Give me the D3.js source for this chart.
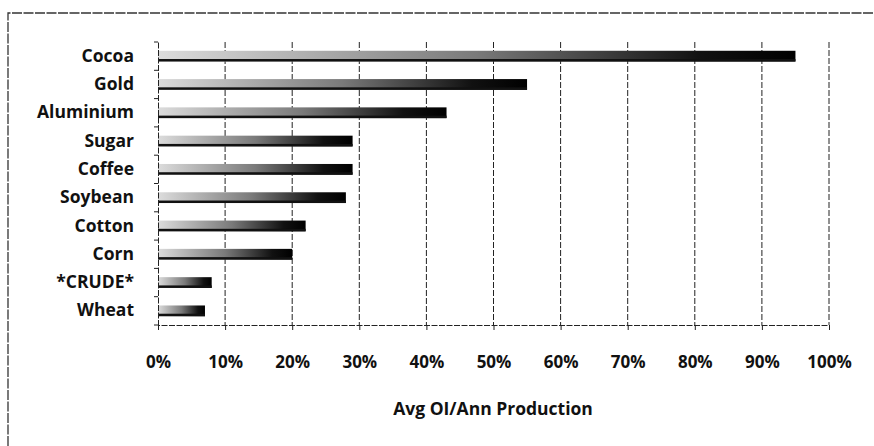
<!DOCTYPE html>
<html><head><meta charset="utf-8">
<script src="https://cdn.jsdelivr.net/npm/d3@7"></script>
<style>body{margin:0;background:#fff}svg{display:block}</style>
</head><body>
<svg id="c" width="874" height="446"></svg>
<script>
const categories = ["Cocoa","Gold","Aluminium","Sugar","Coffee","Soybean","Cotton","Corn","*CRUDE*","Wheat"];
const values = [95,55,43,29,29,28,22,20,8,7];
const xTicks = [0,10,20,30,40,50,60,70,80,90,100];
const axisTitle = "Avg OI/Ann Production";

const svg = d3.select("#c");
const font = "'Open Sans', sans-serif";
const L = 158, R = 829, T = 42, B = 325;

// outer border (top and left visible)
svg.append("path").attr("d", "M8,446 L8,13 L874,13")
  .attr("fill","none").attr("stroke","#333").attr("stroke-width",1.3).attr("stroke-dasharray","10,1.5");

const x = d3.scaleLinear().domain([0,100]).range([L,R]);
const y = d3.scaleBand().domain(categories).range([T,B]).paddingInner(0.62).paddingOuter(0.31);
const yb = d3.scaleBand().domain(categories).range([T,B]);

const defs = svg.append("defs");
const g = defs.append("linearGradient").attr("id","bg").attr("x1","0").attr("x2","1").attr("y1","0").attr("y2","0");
g.append("stop").attr("offset","0").attr("stop-color","#dcdcdc");
g.append("stop").attr("offset","0.5").attr("stop-color","#7a7a7a");
g.append("stop").attr("offset","0.85").attr("stop-color","#111");
g.append("stop").attr("offset","1").attr("stop-color","#000");

// gridlines
svg.append("g").selectAll("line").data(xTicks.slice(1)).join("line")
  .attr("x1", d=>x(d)).attr("x2", d=>x(d)).attr("y1", T).attr("y2", B)
  .attr("stroke","#222").attr("stroke-width",1).attr("stroke-dasharray","6,2");

// bars
const bars = svg.append("g").selectAll("g").data(categories).join("g");
bars.append("rect")
  .attr("x", x(0)).attr("y", d=>y(d)).attr("width", (d,i)=>x(values[i])-x(0)).attr("height", y.bandwidth())
  .attr("fill","url(#bg)");
bars.append("rect")
  .attr("x", x(0)).attr("y", d=>y(d)+y.bandwidth()-2.5).attr("width", (d,i)=>x(values[i])-x(0)).attr("height", 2.5)
  .attr("fill","#111");

// x axis
const xAxis = svg.append("g").attr("transform",`translate(0,${B})`)
  .call(d3.axisBottom(x).tickValues(xTicks).tickFormat(d=>d+"%").tickSize(5).tickPadding(26));
xAxis.select(".domain").attr("stroke","#222").attr("stroke-dasharray","6,1.5");
xAxis.selectAll(".tick line").attr("stroke","#222");
xAxis.selectAll("text").attr("font-family",font).attr("font-weight","bold").attr("font-size",17).attr("fill","#111");

// y axis
const yAxis = svg.append("g").attr("transform",`translate(${L},0)`)
  .call(d3.axisLeft(yb).tickSize(0).tickPadding(24));
yAxis.select(".domain").attr("stroke","#222").attr("stroke-dasharray","6,1.5");
yAxis.selectAll("text").attr("font-family",font).attr("font-weight","bold").attr("font-size",17.5).attr("fill","#111");
// boundary ticks
svg.append("g").selectAll("line").data(categories.concat(["_end"])).join("line")
  .attr("x1", L-4).attr("x2", L)
  .attr("y1", (d,i)=> T + i*yb.step()).attr("y2", (d,i)=> T + i*yb.step())
  .attr("stroke","#222");

// axis title
svg.append("text").attr("x",493).attr("y",415).attr("text-anchor","middle")
  .attr("font-family",font).attr("font-weight","bold").attr("font-size",17.5).attr("fill","#111")
  .text(axisTitle);
</script>
</body></html>
